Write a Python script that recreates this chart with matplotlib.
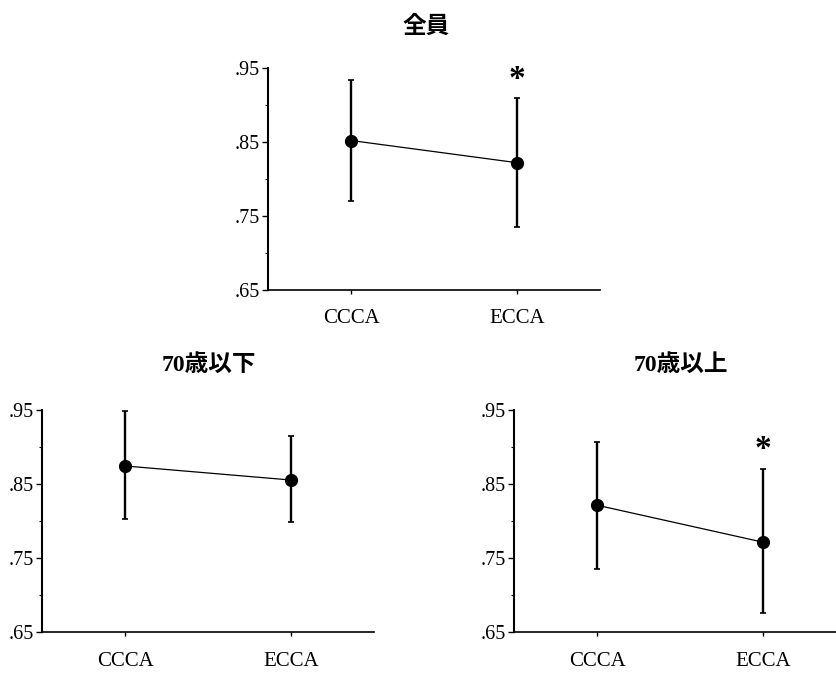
import numpy as np
import matplotlib.pyplot as plt

# Conditions on the x axis
conditions = ['CCCA', 'ECCA']

# Panel titles
titles = ['全員', '70歳以下', '70歳以上']

# Means and the ends of the error bars for each panel
means = [[0.852, 0.822],
         [0.875, 0.856],
         [0.822, 0.772]]
upper = [[0.934, 0.909],
         [0.949, 0.916],
         [0.907, 0.871]]
lower = [[0.770, 0.735],
         [0.804, 0.799],
         [0.736, 0.677]]

# Which points get a significance star
stars = [[False, True],
         [False, False],
         [False, True]]

yticks = [0.65, 0.75, 0.85, 0.95]
ytick_labels = ['.65', '.75', '.85', '.95']

FONT = ['Liberation Serif', 'Noto Sans CJK JP', 'DejaVu Sans']
plt.rcParams['font.family'] = FONT

fig = plt.figure(figsize=(8.37, 6.73), dpi=100)

# Axes boxes in figure fractions: [left, bottom, width, height]
boxes = [[0.3202, 0.5691, 0.3967, 0.3299],
         [0.0502, 0.0602, 0.3967, 0.3299],
         [0.6141, 0.0602, 0.3967, 0.3299]]
title_pos = [(0.509, 0.960), (0.249, 0.458), (0.813, 0.458)]


def draw_panel(ax, m, hi, lo, star):
    x = np.arange(len(conditions))
    m = np.array(m)
    err = [m - np.array(lo), np.array(hi) - m]
    ax.errorbar(x, m, yerr=err, fmt='none', ecolor='black',
                elinewidth=1.7, capsize=2.5, capthick=1.2)
    ax.plot(x, m, '-', color='black', linewidth=0.9)
    ax.plot(x, m, 'o', color='black', markersize=8.5)
    for i in range(len(x)):
        if star[i]:
            ax.text(x[i], hi[i] + 0.026, '*', ha='center', va='center',
                    fontsize=24, fontweight='bold')

    ax.set_xlim(-0.5, 1.5)
    ax.set_ylim(0.65, 0.95)
    ax.set_xticks(x)
    ax.set_xticklabels(conditions, fontsize=15)
    ax.set_yticks(yticks)
    ax.set_yticklabels(ytick_labels, fontsize=14.5)
    ax.set_yticks([0.70, 0.80, 0.90], minor=True)
    ax.tick_params(axis='y', which='major', length=4, width=1, pad=2)
    ax.tick_params(axis='y', which='minor', length=2, width=0.8)
    ax.tick_params(axis='x', length=3, width=1, pad=11)
    for side in ['top', 'right']:
        ax.spines[side].set_visible(False)
    ax.spines['left'].set_linewidth(1.5)
    ax.spines['bottom'].set_linewidth(1.2)
    ax.patch.set_visible(False)


for k in range(3):
    ax = fig.add_axes(boxes[k])
    draw_panel(ax, means[k], upper[k], lower[k], stars[k])
    fig.text(title_pos[k][0], title_pos[k][1], titles[k], ha='center',
             va='center', fontsize=17, fontweight='bold', family=FONT)

fig.savefig('out.png', dpi=100)
